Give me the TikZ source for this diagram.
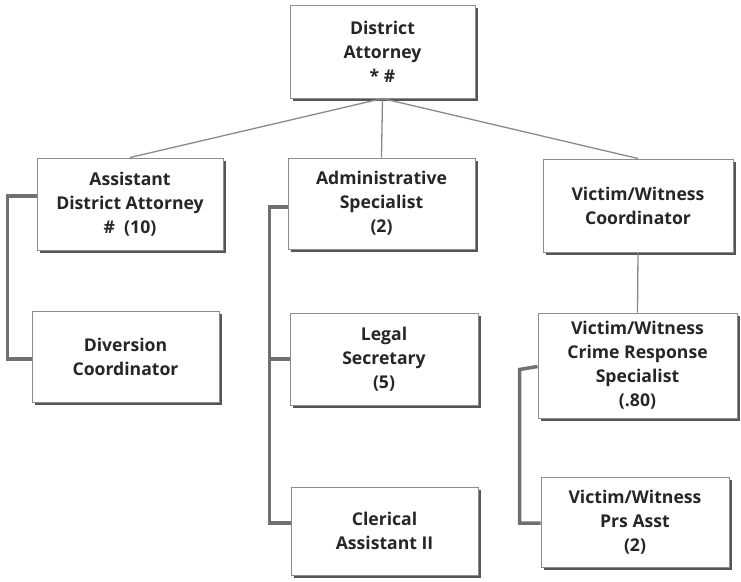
\documentclass[tikz,border=0pt]{standalone}
\usepackage{fontspec}
\setmainfont{Open Sans}[BoldFont={* Bold}]
\usetikzlibrary{shadows}
\definecolor{boxline}{HTML}{8C8C8C}
\definecolor{boxshade}{HTML}{555555}
\definecolor{txt}{HTML}{262626}
\definecolor{linkc}{HTML}{8A8A8A}
\definecolor{bracketc}{HTML}{707070}
\tikzset{
  post/.style={draw=boxline, line width=1pt, fill=white, align=center,
    text=txt, inner sep=0pt,
    font=\fontsize{17.6}{24}\selectfont\bfseries,
    drop shadow={shadow xshift=3pt, shadow yshift=-3pt, fill=boxshade, opacity=1}},
  link/.style={draw=linkc, line width=1.3pt},
  bracket/.style={draw=bracketc, line width=3.5pt, line join=miter}
}
\begin{document}
\begin{tikzpicture}[x=1pt, y=-1pt]
\useasboundingbox (0,0) rectangle (741,581);
% positions
\node[post, minimum width=185pt, minimum height=93pt] (da) at (382.5,51.5) {District\\Attorney\\* \#};
\node[post, minimum width=186pt, minimum height=92pt] (ada) at (130,204) {Assistant\\District Attorney\\\#\ \ (10)};
\node[post, minimum width=187pt, minimum height=91pt] (div) at (125.5,356.5) {Diversion\\Coordinator};
\node[post, minimum width=187pt, minimum height=91pt] (adm) at (381.5,203.5) {Administrative\\Specialist\\(2)};
\node[post, minimum width=188pt, minimum height=92pt] (leg) at (384,359) {Legal\\Secretary\\(5)};
\node[post, minimum width=187pt, minimum height=88pt] (cler) at (384.5,531) {Clerical\\Assistant II};
\node[post, minimum width=190pt, minimum height=93pt] (vwc) at (638,205.5) {Victim/Witness\\Coordinator};
\node[post, minimum width=199pt, minimum height=105pt] (crs) at (637.5,365.5) {Victim/Witness\\Crime Response\\Specialist\\(.80)};
\node[post, minimum width=188pt, minimum height=90pt] (prs) at (635,522) {Victim/Witness\\Prs Asst\\(2)};
% reporting lines from the top post
\draw[link] (da.south) -- (ada.north);
\draw[link] (da.south) -- (adm.north);
\draw[link] (da.south) -- (vwc.north);
\draw[link] (vwc.south) -- (crs.north);
% brackets joining subordinate posts
\draw[bracket] ([yshift=8pt]ada.west) -- ++(-29,0) |- ([yshift=-2.5pt]div.west);
\draw[bracket] ([yshift=-3.5pt]adm.west) -- ++(-18,0) |- ([yshift=8pt]cler.west);
\draw[bracket] (leg.west) -- ++(-20,0);
\draw[bracket] ([yshift=-1pt]crs.west) -- ++(-18,3) |- ([yshift=-1pt]prs.west);
\end{tikzpicture}
\end{document}
